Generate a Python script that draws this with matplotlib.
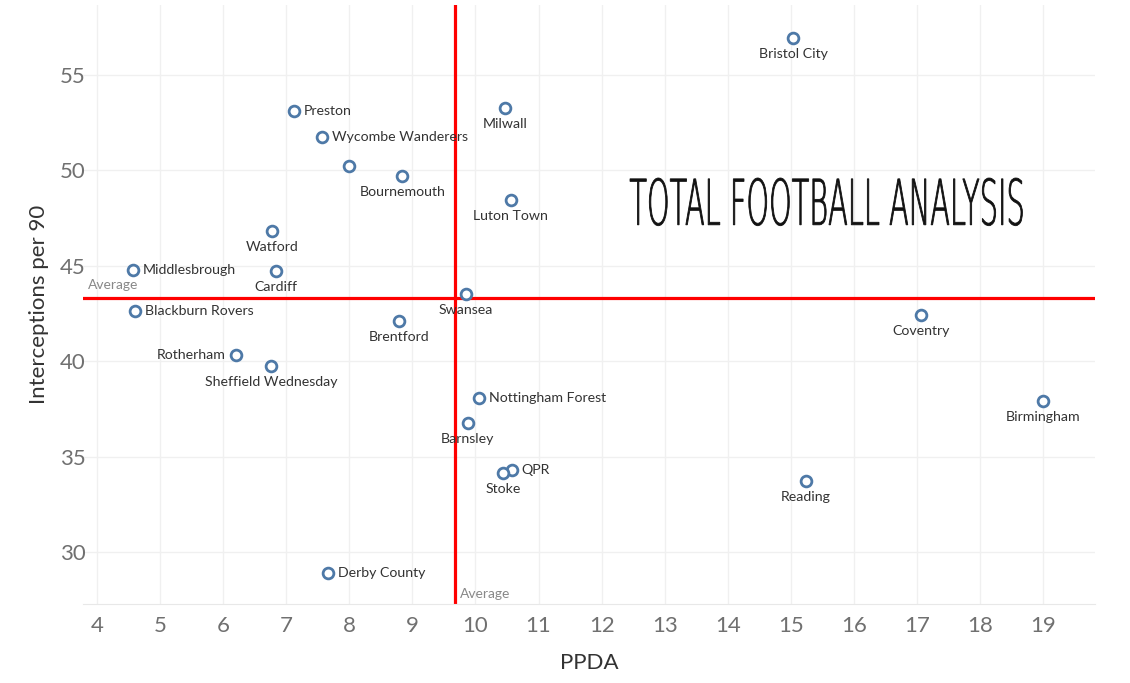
"""Interceptions per 90 vs PPDA scatter with average lines."""
import matplotlib
matplotlib.use('Agg')
import matplotlib.pyplot as plt
from matplotlib.textpath import TextPath
from matplotlib.patches import PathPatch
from matplotlib.font_manager import FontProperties
from matplotlib.transforms import Affine2D

#
# Data
#
teams = ['Bristol City', 'Preston', 'Milwall', 'Wycombe Wanderers', '',
         'Bournemouth', 'Luton Town', 'Watford', 'Middlesbrough', 'Cardiff',
         'Swansea', 'Blackburn Rovers', 'Coventry', 'Brentford', 'Rotherham',
         'Sheffield Wednesday', 'Nottingham Forest', 'Birmingham', 'Barnsley',
         'QPR', 'Stoke', 'Reading', 'Derby County']
ppda = [15.04, 7.12, 10.47, 7.57, 8.00, 8.84, 10.56, 6.77, 4.57, 6.84,
        9.85, 4.60, 17.07, 8.79, 6.20, 6.76, 10.06, 19.00, 9.88, 10.58,
        10.44, 15.24, 7.66]
interceptions = [56.94, 53.11, 53.27, 51.75, 50.23, 49.71, 48.45, 46.82,
                 44.78, 44.73, 43.52, 42.63, 42.42, 42.11, 40.32, 39.75,
                 38.07, 37.91, 36.76, 34.30, 34.14, 33.72, 28.90]
# where the label sits: r = right, l = left, b = below
label_pos = ['b', 'r', 'b', 'r', 'r', 'b', 'b', 'b', 'r', 'b', 'b', 'r', 'b',
             'b', 'l', 'b', 'r', 'b', 'b', 'r', 'b', 'b', 'r']
avg_ppda = 9.68
avg_int = 43.31

#
# Plot
#
plt.rcParams['font.family'] = ['Lato', 'DejaVu Sans']
fig = plt.figure(figsize=(11.3, 6.83), dpi=100)
ax = fig.add_axes([0.0735, 0.1157, 0.8955, 0.877])

ax.set_xlim(3.78, 19.82)
ax.set_ylim(27.27, 58.67)
ax.set_xticks(range(4, 20))
ax.set_yticks(range(30, 56, 5))
ax.grid(True, color='#f0f0f0', lw=1)
ax.set_axisbelow(True)
for s in ['top', 'right', 'left']:
    ax.spines[s].set_visible(False)
ax.spines['bottom'].set_color('#e8e8e8')
ax.tick_params(length=0, labelsize=16, labelcolor='#707070')
ax.tick_params(axis='x', pad=9)
ax.tick_params(axis='y', pad=-2)

ax.axvline(avg_ppda, color='red', lw=2.3, zorder=2)
ax.axhline(avg_int, color='red', lw=2.3, zorder=2)
ax.text(3.85, avg_int + 0.35, 'Average', fontsize=10, color='#888888',
        ha='left', va='bottom')
ax.text(avg_ppda + 0.07, 27.5, 'Average', fontsize=10, color='#888888',
        ha='left', va='bottom')

ax.scatter(ppda, interceptions, s=60, facecolors='white',
           edgecolors='#4e79a7', linewidths=2, zorder=3)

for name, x, y, p in zip(teams, ppda, interceptions, label_pos):
    if not name:
        continue
    if p == 'r':
        ax.annotate(name, (x, y), xytext=(7, 0), textcoords='offset points',
                    ha='left', va='center', fontsize=10.2, color='#333333')
    elif p == 'l':
        ax.annotate(name, (x, y), xytext=(-7, 0), textcoords='offset points',
                    ha='right', va='center', fontsize=10.2, color='#333333')
    else:
        ax.annotate(name, (x, y), xytext=(0, -7), textcoords='offset points',
                    ha='center', va='top', fontsize=10.2, color='#333333')

ax.set_xlabel('PPDA', fontsize=16, color='#333333', labelpad=12)
ax.set_ylabel('Interceptions per 90', fontsize=16, color='#333333', labelpad=8)

# logo text, stretched to fill its box
tp = TextPath((0, 0), 'TOTAL FOOTBALL ANALYSIS', size=1,
              prop=FontProperties(family='DejaVu Sans', weight='light'))
ext = tp.get_extents()
x0, x1, y0, y1 = 12.45, 18.67, 47.1, 49.6
tr = Affine2D().translate(-ext.x0, -ext.y0).scale(
    (x1 - x0) / ext.width, (y1 - y0) / ext.height).translate(x0, y0)
ax.add_patch(PathPatch(tr.transform_path(tp), color='#111111', lw=0.6,
                       zorder=4))

plt.savefig('out.png', dpi=100)
